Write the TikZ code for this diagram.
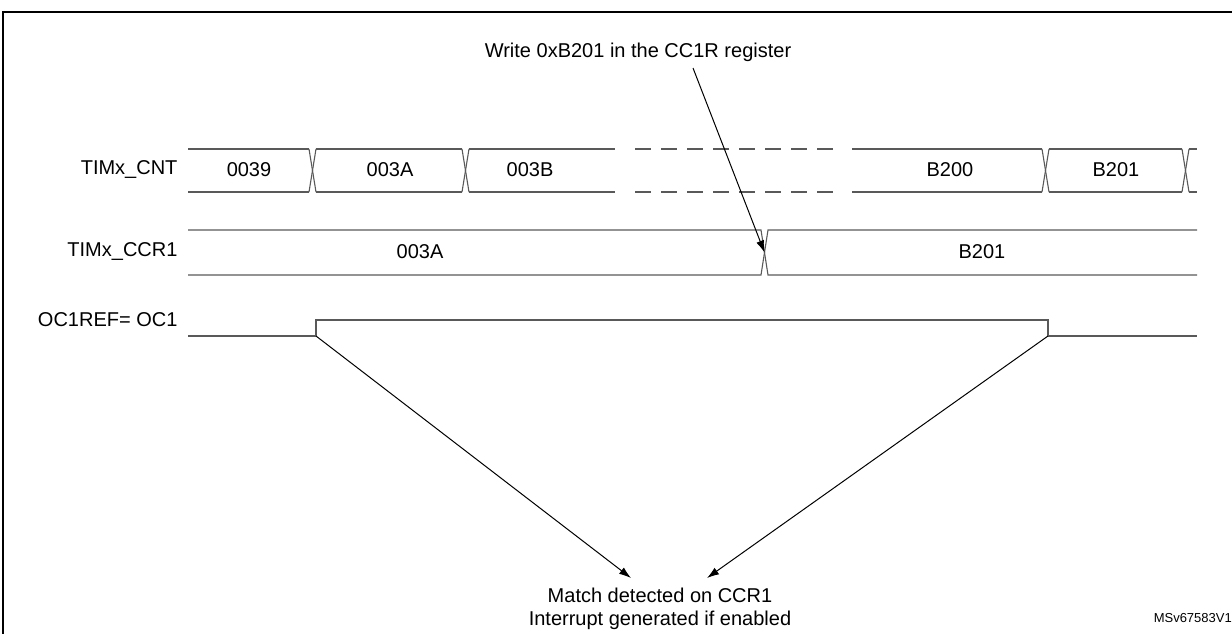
\documentclass[tikz,border=0pt]{standalone}
\usepackage{fontspec}
\setmainfont{Liberation Sans}
\usetikzlibrary{arrows.meta}
\begin{document}
\begin{tikzpicture}[x=1pt, y=-1pt]
    % Define styles
    \tikzset{
        bus/.style={
            gray!70!black,
            line width=1.1pt
        },
        dashbus/.style={
            bus,
            dash pattern=on 16pt off 10pt
        },
        signame/.style={
            anchor=east,
            font=\fontsize{20}{24}\selectfont
        },
        value/.style={
            font=\fontsize{20}{24}\selectfont
        },
        note/.style={
            font=\fontsize{20}{24}\selectfont
        },
        pointer/.style={
            -{Latex[length=12pt, width=8pt]},
            line width=1pt
        }
    }
    \useasboundingbox (0,0) rectangle (1232,634);
    % Frame
    \draw[line width=1.5pt] (3,12) rectangle (1240,640);

    % Signal names
    \node[signame] (cnt) at (181,170) {TIMx\_CNT};
    \node[signame] (ccr) at (181,252) {TIMx\_CCR1};
    \node[signame] (oc) at (181,320) {OC1REF= OC1};

    % TIMx_CNT bus
    \foreach \a/\b in {188/309, 316/462, 469/615, 852/1042, 1049/1182, 1189/1197} {
        \draw[bus] (\a,149) -- (\b,149);
        \draw[bus] (\a,192) -- (\b,192);
    }
    \foreach \t in {309, 462, 1042, 1182} {
        \draw[bus] (\t,149) -- (\t+7,192);
        \draw[bus] (\t,192) -- (\t+7,149);
    }
    \draw[dashbus] (635,149) -- (842,149);
    \draw[dashbus] (635,192) -- (842,192);
    \foreach \x/\v/\n in {249/0039/c1, 390/003A/c2, 530/003B/c3, 950/B200/c4, 1116/B201/c5}
        \node[value] (\n) at (\x,170) {\v};

    % TIMx_CCR1 bus
    \draw[bus] (188,230) -- (761,230) -- (768,275) -- (1197,275);
    \draw[bus] (188,275) -- (761,275) -- (768,230) -- (1197,230);
    \coordinate (cross) at (764.5,252.5);
    \node[value] (r1) at (420,252) {003A};
    \node[value] (r2) at (982,252) {B201};

    % OC1REF waveform
    \coordinate (rise) at (316,336);
    \coordinate (fall) at (1048,336);
    \draw[bus] (188,336) -- (316,336) -- (316,320) -- (1048,320) -- (1048,336) -- (1197,336);

    % Notes and pointers
    \node[note] (write) at (638,52) {Write 0xB201 in the CC1R register};
    \node[note] (match) at (660,595) {Match detected on CCR1};
    \node[note] (irq) at (660,620) {Interrupt generated if enabled};
    \node[font=\fontsize{13}{15}\selectfont, anchor=east, inner sep=0pt] (ref) at (1232,618) {MSv67583V1};
    \coordinate (w0) at (693,68);
    \coordinate (m0) at (631,578);
    \coordinate (m1) at (707,578);
    \draw[pointer] (w0) -- (cross);
    \draw[pointer] (rise) -- (m0);
    \draw[pointer] (fall) -- (m1);
\end{tikzpicture}
\end{document}
